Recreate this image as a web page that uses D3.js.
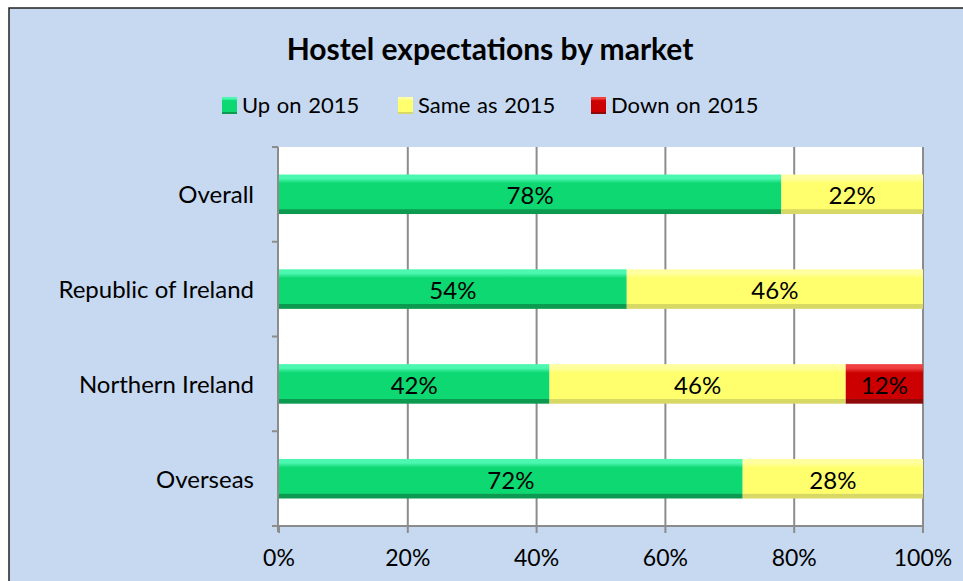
<!DOCTYPE html>
<html>
<head>
<meta charset="utf-8">
<script src="https://cdn.jsdelivr.net/npm/d3@7"></script>
<style>
  body { margin: 0; background: #fff; }
  svg text { font-family: Lato, "Open Sans", sans-serif; fill: #000; }
</style>
</head>
<body>
<svg id="chart" width="963" height="581"></svg>
<script>
	var markets = ["Overall", "Republic of Ireland", "Northern Ireland", "Overseas"];
	var upOn2015 = [78, 54, 42, 72];
	var sameAs2015 = [22, 46, 46, 28];
	var downOn2015 = [0, 0, 12, 0];
	var seriesNames = ["Up on 2015", "Same as 2015", "Down on 2015"];
	var xTicks = [0, 20, 40, 60, 80, 100];

	var svg = d3.select("#chart");

	// gradients for the bevelled bars
	var colours = [
		{id: "g-up", light: "#4cf7b0", main: "#0dd872", dark: "#0b9a50"},
		{id: "g-same", light: "#ffffa0", main: "#ffff6e", dark: "#d8d865"},
		{id: "g-down", light: "#f04040", main: "#cc0000", dark: "#8e0a0a"}
	];
	var defs = svg.append("defs");
	colours.forEach(function (c) {
		var g = defs.append("linearGradient").attr("id", c.id)
			.attr("x1", 0).attr("y1", 0).attr("x2", 0).attr("y2", 1);
		g.append("stop").attr("offset", "0").attr("stop-color", c.light);
		g.append("stop").attr("offset", "0.1").attr("stop-color", c.light);
		g.append("stop").attr("offset", "0.22").attr("stop-color", c.main);
		g.append("stop").attr("offset", "0.87").attr("stop-color", c.main);
		g.append("stop").attr("offset", "0.89").attr("stop-color", c.dark);
		g.append("stop").attr("offset", "1").attr("stop-color", c.dark);
	});

	// chart frame
	svg.append("rect")
		.attr("x", 9).attr("y", 8).attr("width", 970).attr("height", 590)
		.style("fill", "#c6d9f0").style("stroke", "#222").style("stroke-width", 1.5);

	svg.append("text")
		.attr("x", 490).attr("y", 60)
		.attr("text-anchor", "middle")
		.style("font-size", "30px").style("font-weight", "bold")
		.text("Hostel expectations by market");

	var plotLeft = 279, plotRight = 923, plotTop = 147, plotBottom = 526;

	var x = d3.scaleLinear().domain([0, 100]).range([plotLeft, plotRight]);
	var y = d3.scaleBand().domain(markets).range([plotTop, plotBottom]).paddingInner(0.583).paddingOuter(0.29);
	var yBand = d3.scaleBand().domain(markets).range([plotTop, plotBottom]);

	svg.append("rect")
		.attr("x", plotLeft).attr("y", plotTop).attr("width", plotRight - plotLeft).attr("height", plotBottom - plotTop)
		.style("fill", "#fff");

	// vertical grid lines
	svg.selectAll(".grid")
		.data(xTicks.slice(1))
		.enter().append("line")
		.attr("class", "grid")
		.attr("x1", function (d) { return x(d); })
		.attr("x2", function (d) { return x(d); })
		.attr("y1", plotTop).attr("y2", plotBottom)
		.style("stroke", "#8c8c8c").style("stroke-width", 2);

	// stacked bars
	var rows = markets.map(function (m, i) {
		return {market: m, values: [upOn2015[i], sameAs2015[i], downOn2015[i]]};
	});
	var segs = [];
	rows.forEach(function (r) {
		var start = 0;
		r.values.forEach(function (v, k) {
			if (v > 0) segs.push({market: r.market, x0: start, x1: start + v, v: v, k: k});
			start += v;
		});
	});

	svg.selectAll(".seg")
		.data(segs)
		.enter().append("rect")
		.attr("class", "seg")
		.attr("x", function (d) { return x(d.x0); })
		.attr("y", function (d) { return y(d.market); })
		.attr("width", function (d) { return x(d.x1) - x(d.x0); })
		.attr("height", y.bandwidth())
		.style("fill", function (d) { return "url(#" + colours[d.k].id + ")"; });

	svg.selectAll(".val")
		.data(segs)
		.enter().append("text")
		.attr("class", "val")
		.attr("x", function (d) { return x((d.x0 + d.x1) / 2); })
		.attr("y", function (d) { return y(d.market) + y.bandwidth() / 2 + 10; })
		.attr("text-anchor", "middle")
		.style("font-size", "24px")
		.text(function (d) { return d.v + "%"; });

	// y axis
	svg.append("line")
		.attr("x1", plotLeft - 1).attr("x2", plotLeft - 1).attr("y1", plotTop).attr("y2", plotBottom + 6)
		.style("stroke", "#8c8c8c").style("stroke-width", 2);
	var yTickPos = markets.map(function (m) { return yBand(m); }).concat([plotBottom]);
	svg.selectAll(".ytick")
		.data(yTickPos)
		.enter().append("line")
		.attr("x1", plotLeft - 7).attr("x2", plotLeft - 1)
		.attr("y1", function (d) { return d; }).attr("y2", function (d) { return d; })
		.style("stroke", "#8c8c8c").style("stroke-width", 2);
	svg.selectAll(".ylab")
		.data(markets)
		.enter().append("text")
		.attr("x", 254)
		.attr("y", function (d) { return y(d) + y.bandwidth() / 2 + 9; })
		.attr("text-anchor", "end")
		.style("font-size", "24px")
		.text(function (d) { return d; });

	// x axis
	svg.append("line")
		.attr("x1", plotLeft - 1).attr("x2", plotRight).attr("y1", plotBottom).attr("y2", plotBottom)
		.style("stroke", "#8c8c8c").style("stroke-width", 2);
	svg.selectAll(".xtick")
		.data(xTicks)
		.enter().append("line")
		.attr("x1", function (d) { return x(d); }).attr("x2", function (d) { return x(d); })
		.attr("y1", plotBottom).attr("y2", plotBottom + 7)
		.style("stroke", "#8c8c8c").style("stroke-width", 2);
	svg.selectAll(".xlab")
		.data(xTicks)
		.enter().append("text")
		.attr("x", function (d) { return x(d); })
		.attr("y", 566)
		.attr("text-anchor", "middle")
		.style("font-size", "23px")
		.text(function (d) { return d + "%"; });

	// legend
	var legendX = [222, 398, 591];
	var legend = svg.selectAll(".legend")
		.data(seriesNames)
		.enter().append("g")
		.attr("class", "legend")
		.attr("transform", function (d, i) { return "translate(" + legendX[i] + ",97)"; });
	legend.append("rect")
		.attr("width", 15).attr("height", 17)
		.style("fill", function (d, i) { return "url(#" + colours[i].id + ")"; });
	legend.append("text")
		.attr("x", 20).attr("y", 16)
		.style("font-size", "22px")
		.style("word-spacing", "1px")
		.text(function (d) { return d; });
</script>
</body>
</html>
